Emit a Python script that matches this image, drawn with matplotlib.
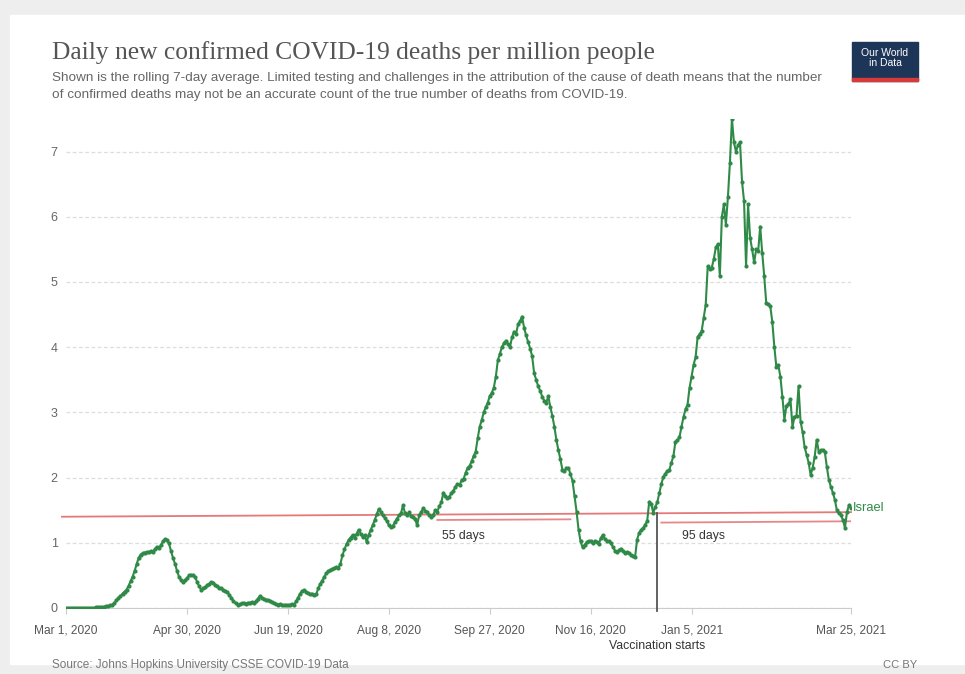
import matplotlib.pyplot as plt
import matplotlib.patches as mpatches
import pandas as pd

# Israel, daily new confirmed COVID-19 deaths per million (7-day avg), Mar 1 2020 - Mar 25 2021
deaths = [
    0, 0, 0, 0, 0, 0, 0, 0, 0, 0, 0, 0, 0, 0, 0, 0.01, 0.01, 0.01, 0.01,
    0.02, 0.03, 0.03, 0.04, 0.05, 0.08, 0.12, 0.15, 0.18, 0.22, 0.25,
    0.28, 0.34, 0.41, 0.48, 0.57, 0.67, 0.77, 0.82, 0.84, 0.85,
    0.86, 0.86, 0.87, 0.86, 0.90, 0.94, 0.92, 0.96, 1.02, 1.06,
    1.04, 0.99, 0.88, 0.77, 0.68, 0.57, 0.48, 0.43, 0.40, 0.43,
    0.46, 0.50, 0.51, 0.50, 0.47, 0.40, 0.33, 0.28, 0.30, 0.32,
    0.35, 0.37, 0.40, 0.39, 0.35, 0.33, 0.31, 0.30, 0.28, 0.26,
    0.24, 0.20, 0.15, 0.11, 0.07, 0.05, 0.06, 0.07, 0.07, 0.06,
    0.08, 0.08, 0.09, 0.08, 0.10, 0.14, 0.18, 0.16, 0.14, 0.13,
    0.12, 0.11, 0.09, 0.07, 0.06, 0.05, 0.06, 0.05, 0.04, 0.05,
    0.04, 0.05, 0.06, 0.05, 0.10, 0.16, 0.22, 0.26, 0.27, 0.25,
    0.23, 0.21, 0.22, 0.20, 0.21, 0.30, 0.37, 0.42, 0.48, 0.53,
    0.56, 0.58, 0.60, 0.61, 0.63, 0.62, 0.68, 0.81, 0.90, 0.98,
    1.04, 1.08, 1.12, 1.08, 1.14, 1.20, 1.14, 1.09, 1.12, 1.01,
    1.12, 1.20, 1.27, 1.35, 1.44, 1.52, 1.47, 1.42, 1.38, 1.33,
    1.27, 1.24, 1.26, 1.32, 1.37, 1.42, 1.45, 1.58, 1.45, 1.43,
    1.47, 1.41, 1.40, 1.36, 1.27, 1.42, 1.47, 1.53, 1.49, 1.47,
    1.43, 1.40, 1.43, 1.50, 1.48, 1.56, 1.62, 1.77, 1.72, 1.68,
    1.71, 1.76, 1.80, 1.86, 1.90, 1.88, 1.96, 1.98, 2.07, 2.15,
    2.18, 2.25, 2.33, 2.40, 2.60, 2.78, 2.88, 3.00, 3.08, 3.15,
    3.25, 3.30, 3.38, 3.55, 3.80, 3.90, 4.00, 4.06, 4.10, 4.05,
    4.00, 4.15, 4.24, 4.20, 4.35, 4.40, 4.47, 4.30, 4.18, 4.08,
    3.98, 3.86, 3.60, 3.50, 3.40, 3.33, 3.24, 3.18, 3.15, 3.25,
    3.08, 2.95, 2.78, 2.58, 2.42, 2.28, 2.12, 2.10, 2.14, 2.15,
    2.05, 1.95, 1.72, 1.48, 1.20, 1.02, 0.93, 0.97, 1.01, 1.03,
    1.02, 0.99, 1.03, 1.01, 0.98, 1.07, 1.12, 1.06, 1.03, 1.02,
    0.99, 0.94, 0.88, 0.86, 0.89, 0.91, 0.87, 0.85, 0.86, 0.84,
    0.81, 0.80, 0.78, 1.05, 1.15, 1.20, 1.22, 1.28, 1.33, 1.63,
    1.60, 1.46, 1.55, 1.62, 1.76, 1.90, 2.01, 2.06, 2.10, 2.12,
    2.23, 2.33, 2.55, 2.57, 2.62, 2.78, 2.93, 3.05, 3.12, 3.38,
    3.55, 3.73, 3.85, 4.16, 4.20, 4.25, 4.45, 4.65, 5.24, 5.20,
    5.22, 5.35, 5.53, 5.58, 5.09, 6.00, 6.19, 5.88, 6.30, 6.83,
    7.50, 7.14, 7.00, 7.10, 7.14, 6.54, 6.24, 5.24, 6.19, 5.68,
    5.50, 5.30, 5.50, 5.47, 5.85, 5.45, 5.09, 4.68, 4.66, 4.63,
    4.39, 4.01, 3.70, 3.72, 3.55, 3.24, 2.89, 3.10, 3.13, 3.20,
    2.78, 2.93, 2.95, 3.40, 2.86, 2.70, 2.47, 2.35, 2.23, 2.04,
    2.15, 2.32, 2.58, 2.40, 2.42, 2.42, 2.40, 2.17, 1.97, 1.86,
    1.77, 1.66, 1.50, 1.45, 1.43, 1.35, 1.23, 1.47, 1.58, 1.54,
]
dates = pd.date_range('2020-03-01', periods=len(deaths), freq='D')

tick_dates = ['2020-03-01', '2020-04-30', '2020-06-19', '2020-08-08',
              '2020-09-27', '2020-11-16', '2021-01-05', '2021-03-25']
tick_labels = ['Mar 1, 2020', 'Apr 30, 2020', 'Jun 19, 2020', 'Aug 8, 2020',
               'Sep 27, 2020', 'Nov 16, 2020', 'Jan 5, 2021', 'Mar 25, 2021']
y_ticks = [0, 1, 2, 3, 4, 5, 6, 7]

# hand-drawn annotations (dates, values)
level_line_x = ['2020-02-28', '2021-03-25']
level_line_y = [1.40, 1.47]
gap55_x = ['2020-09-01', '2020-11-06']
gap55_y = [1.35, 1.36]
gap95_x = ['2020-12-21', '2021-03-25']
gap95_y = [1.31, 1.33]
vacc_date = '2020-12-19'
vacc_top = 1.46
label55_at = '2020-09-14'
label95_at = '2021-01-11'

W, H = 965, 674
fig = plt.figure(figsize=(W / 100, H / 100), dpi=100, facecolor='#eeeeee')
fig.patches.append(mpatches.Rectangle((10 / W, 10 / H), 1, 1 - 25 / H,
                                      transform=fig.transFigure, color='white', zorder=-10))

ax = fig.add_axes([66 / W, (H - 608) / H, (851 - 66) / W, (608 - 119) / H])
ax.set_zorder(5)
ax.set_facecolor('none')
green = '#2f8a47'
ax.plot(dates, deaths, color=green, lw=1.5, marker='o', ms=3.0, mew=0, zorder=3)

red = '#e06b6b'
ax.plot(pd.to_datetime(level_line_x), level_line_y, color=red, lw=1.3, alpha=0.9, clip_on=False, zorder=2)
ax.plot(pd.to_datetime(gap55_x), gap55_y, color=red, lw=1.3, alpha=0.8, zorder=2)
ax.plot(pd.to_datetime(gap95_x), gap95_y, color=red, lw=1.3, alpha=0.8, zorder=2)
ax.plot(pd.to_datetime([vacc_date, vacc_date]), [vacc_top, -0.04], color='#555555',
        lw=1.3, clip_on=False, zorder=4)

ax.text(pd.Timestamp(label55_at), 1.1, '55 days', fontsize=8.8, color='#333333',
        ha='center', va='center', family='Liberation Sans')
ax.text(pd.Timestamp(label95_at), 1.1, '95 days', fontsize=8.8, color='#333333',
        ha='center', va='center', family='Liberation Sans')
ax.text(pd.Timestamp(vacc_date), -0.58, 'Vaccination starts', fontsize=8.8, color='#333333',
        ha='center', va='center', family='Liberation Sans')
ax.text(dates[-1] + pd.Timedelta(days=1), deaths[-1], 'Israel', fontsize=9.3, color=green,
        ha='left', va='center', family='Liberation Sans')

ax.set_xlim(dates[0], dates[-1])
ax.set_ylim(0, 7.5)
ax.set_yticks(y_ticks)
ax.set_yticklabels([str(v) for v in y_ticks])
ax.set_xticks(pd.to_datetime(tick_dates))
ax.set_xticklabels(tick_labels)
ax.tick_params(axis='y', length=0, pad=6, labelsize=9, labelcolor='#666666')
ax.tick_params(axis='x', length=4, color='#cccccc', pad=8, labelsize=8.6, labelcolor='#555555')
for lab in ax.get_xticklabels() + ax.get_yticklabels():
    lab.set_family('Liberation Sans')
ax.grid(axis='y', color='#dddddd', ls=(0, (3, 2)), lw=0.9)
for s in ['top', 'right', 'left']:
    ax.spines[s].set_visible(False)
ax.spines['bottom'].set_color('#cccccc')

fig.text(52 / W, 1 - 53 / H, 'Daily new confirmed COVID-19 deaths per million people',
         fontsize=18.4, color='#555555', family='Liberation Serif', va='center')
fig.text(52 / W, 1 - 72 / H,
         'Shown is the rolling 7-day average. Limited testing and challenges in the attribution of the cause of death means that the number\n'
         'of confirmed deaths may not be an accurate count of the true number of deaths from COVID-19.',
         fontsize=9.7, color='#666666', family='Liberation Sans', va='top', linespacing=1.6)

# logo
fig.patches.append(mpatches.Rectangle((852 / W, 1 - 81 / H), 66 / W, 39 / H,
                                      transform=fig.transFigure, color='#1d3557', zorder=1))
fig.patches.append(mpatches.Rectangle((852 / W, 1 - 81 / H), 66 / W, 3 / H,
                                      transform=fig.transFigure, color='#d73a3a', zorder=2))
fig.text(885 / W, 1 - 58 / H, 'Our World\nin Data', fontsize=7.5, color='white', ha='center',
         va='center', family='Liberation Sans', linespacing=1.0, zorder=3)

fig.text(52 / W, 1 - 665 / H, 'Source: Johns Hopkins University CSSE COVID-19 Data',
         fontsize=8.5, color='#777777', family='Liberation Sans', va='center')
fig.text(917 / W, 1 - 665 / H, 'CC BY', fontsize=8, color='#777777',
         family='Liberation Sans', va='center', ha='right')

fig.savefig('out.png', dpi=100, facecolor=fig.get_facecolor())
